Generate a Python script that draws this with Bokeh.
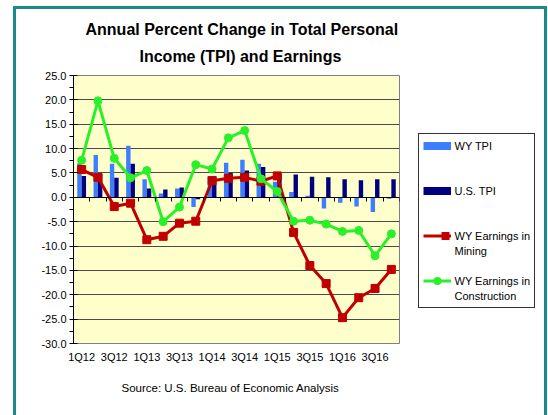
import numpy as np
from bokeh.plotting import figure
from bokeh.models import (ColumnDataSource, Range1d, LinearAxis, FixedTicker, Grid,
                          NumeralTickFormatter, Legend, LegendItem, Title)
from bokeh.embed import file_html
from bokeh.resources import INLINE

quarters = ["1Q12", "2Q12", "3Q12", "4Q12", "1Q13", "2Q13", "3Q13", "4Q13",
            "1Q14", "2Q14", "3Q14", "4Q14", "1Q15", "2Q15", "3Q15", "4Q15",
            "1Q16", "2Q16", "3Q16", "4Q16"]
tick_labels = ["1Q12", "3Q12", "1Q13", "3Q13", "1Q14", "3Q14", "1Q15", "3Q15", "1Q16", "3Q16"]
wy_tpi = [7.0, 8.7, 6.9, 10.6, 3.7, 0.8, 1.8, -2.0, 4.4, 7.1,
          7.7, 6.9, 3.2, 1.1, 0.3, -2.3, -1.1, -1.9, -3.0, -0.3]
us_tpi = [4.4, 4.8, 4.0, 6.9, 1.8, 1.6, 2.0, -0.4, 4.3, 5.0,
          5.5, 6.2, 4.8, 4.7, 4.2, 4.1, 3.7, 3.5, 3.7, 3.7]
mining = [5.7, 4.1, -1.9, -1.2, -8.7, -8.0, -5.3, -4.9, 3.4, 3.9,
          4.1, 3.3, 4.4, -7.2, -14.0, -17.7, -24.7, -20.6, -18.7, -14.8]
construction = [7.6, 19.8, 8.0, 4.0, 5.5, -5.0, -2.0, 6.7, 5.8, 12.2,
                 13.7, 3.8, 1.2, -4.9, -4.7, -5.5, -7.0, -6.8, -12.0, -7.5]
y_ticks = [-30, -25, -20, -15, -10, -5, 0, 5, 10, 15, 20, 25]
series_names = ["WY TPI", "U.S. TPI", "WY Earnings in\nMining", "WY Earnings in\nConstruction"]
title_lines = ["Annual Percent Change in Total Personal", "Income (TPI) and Earnings"]
source_text = "Source: U.S. Bureau of Economic Analysis"

LIGHT = "#3D7EFF"
NAVY = "#000080"
RED = "#C00000"
GREEN = "#2AF02A"
TEAL = "#1A8A8A"
FONT = "Liberation Sans"

n = len(quarters)
xc = np.arange(n) + 0.5
src = ColumnDataSource(dict(x=xc, xl=xc - 0.135, xr=xc + 0.135,
                            wy=wy_tpi, us=us_tpi, mi=mining, co=construction))

p = figure(frame_width=326, frame_height=268, output_backend="svg", toolbar_location=None,
           x_range=Range1d(0, n), y_range=Range1d(y_ticks[0], y_ticks[-1]),
           min_border_left=73, min_border_right=149, min_border_top=75, min_border_bottom=72,
           x_axis_type=None, y_axis_type=None)
p.background_fill_color = "#FFFFCC"
p.border_fill_color = None
p.outline_line_color = "#808080"
p.outline_line_width = 1
g = f"linear-gradient({TEAL}, {TEAL})"
p.styles = {"background": f"{g} 13px 6px / 3px 420px no-repeat, "
                          f"{g} 544px 6px / 3px 420px no-repeat, "
                          f"{g} 13px 6px / 534px 3px no-repeat, white"}

# y axis
minor = [t + 2.5 for t in y_ticks[:-1]]
yax = LinearAxis(ticker=FixedTicker(ticks=y_ticks, minor_ticks=minor),
                 formatter=NumeralTickFormatter(format="0.0"))
yax.axis_line_color = "black"
yax.major_tick_in = 4
yax.major_tick_out = 4
yax.minor_tick_in = 0
yax.minor_tick_out = 4
yax.major_tick_line_color = "black"
yax.minor_tick_line_color = "black"
yax.major_label_standoff = 3
yax.major_label_text_font = FONT
yax.major_label_text_font_size = "11px"
yax.major_label_text_color = "black"
p.add_layout(yax, "left")

# bottom axis (labels)
lab_pos = [xc[quarters.index(q)] for q in tick_labels]
xax = LinearAxis(ticker=FixedTicker(ticks=lab_pos, minor_ticks=[]))
xax.major_label_overrides = {float(v): q for v, q in zip(lab_pos, tick_labels)}
xax.axis_line_color = None
xax.major_tick_line_color = None
xax.major_tick_out = 0
xax.major_tick_in = 0
xax.major_label_standoff = 7
xax.major_label_text_font = FONT
xax.major_label_text_font_size = "11px"
xax.major_label_text_color = "black"
p.add_layout(xax, "below")

# zero line axis with boundary ticks
zax = LinearAxis(ticker=FixedTicker(ticks=list(range(n + 1)), minor_ticks=[]), fixed_location=0)
zax.axis_line_color = "black"
zax.axis_line_width = 1
zax.major_tick_in = 0
zax.major_tick_out = 4
zax.major_tick_line_color = "black"
zax.major_label_text_alpha = 0
zax.major_label_text_font_size = "1px"
p.add_layout(zax, "below")

grid = Grid(dimension=1, ticker=FixedTicker(ticks=y_ticks))
grid.grid_line_color = "#4a4a4a"
grid.grid_line_width = 1
p.add_layout(grid)

# bars
p.vbar(x="xl", width=0.27, top="wy", bottom=0, source=src, fill_color=LIGHT, line_color=None)
p.vbar(x="xr", width=0.27, top="us", bottom=0, source=src, fill_color=NAVY, line_color=None)

# lines
rl = p.line("x", "mi", source=src, line_color=RED, line_width=3)
p.scatter("x", "mi", source=src, marker="square", size=8, fill_color=RED, line_color=RED)
cl = p.line("x", "co", source=src, line_color=GREEN, line_width=3)
p.scatter("x", "co", source=src, marker="circle", size=8, fill_color=GREEN, line_color=GREEN)

# legend-only swatches (nothing drawn inside the plot)
pw = p.line(x=[np.nan], y=[np.nan], line_color=LIGHT, line_width=8)
pu = p.line(x=[np.nan], y=[np.nan], line_color=NAVY, line_width=8)
sq = p.line(x=[np.nan], y=[np.nan], line_color=RED, line_width=8,
            line_dash="8 100", line_dash_offset=90, line_cap="butt")
dot = p.line(x=[np.nan], y=[np.nan], line_color=GREEN, line_width=8,
             line_dash="0 100", line_dash_offset=86, line_cap="round")
blank = p.line(x=[np.nan], y=[np.nan], line_alpha=0)


def spacer(k):
    return [LegendItem(label=" ", renderers=[blank]) for _ in range(k)]


m1, m2 = series_names[2].split("\n")
c1, c2 = series_names[3].split("\n")
items = ([LegendItem(label=series_names[0], renderers=[pw])] + spacer(2) +
         [LegendItem(label=series_names[1], renderers=[pu])] + spacer(2) +
         [LegendItem(label=m1, renderers=[rl, sq]), LegendItem(label=m2, renderers=[blank])] +
         spacer(1) +
         [LegendItem(label=c1, renderers=[cl, dot]), LegendItem(label=c2, renderers=[blank])])

legend = Legend(items=items, location=(18.5, 35), orientation="vertical",
                glyph_width=28, glyph_height=15, label_height=15, label_standoff=4,
                padding=4, spacing=0, margin=0,
                border_line_color="#333333", border_line_width=1, border_line_alpha=1,
                background_fill_color="white", background_fill_alpha=1,
                label_text_font=FONT, label_text_font_size="11px", label_text_color="black")
p.add_layout(legend, "right")

# title (two centred lines) and source note
t2 = Title(text=title_lines[1], align="left", offset=66, text_font=FONT, text_font_size="16px",
           text_font_style="bold", text_color="black", standoff=22)
p.add_layout(t2, "above")
t1 = Title(text=title_lines[0], align="left", offset=12, text_font=FONT, text_font_size="16px",
           text_font_style="bold", text_color="black", standoff=-6)
p.add_layout(t1, "above")
src_note = Title(text=source_text, align="left", offset=48, text_font=FONT, text_font_size="11.5px",
                 text_font_style="normal", text_color="black", standoff=29)
p.add_layout(src_note, "below")

open("out.html", "w").write(file_html(p, INLINE))
